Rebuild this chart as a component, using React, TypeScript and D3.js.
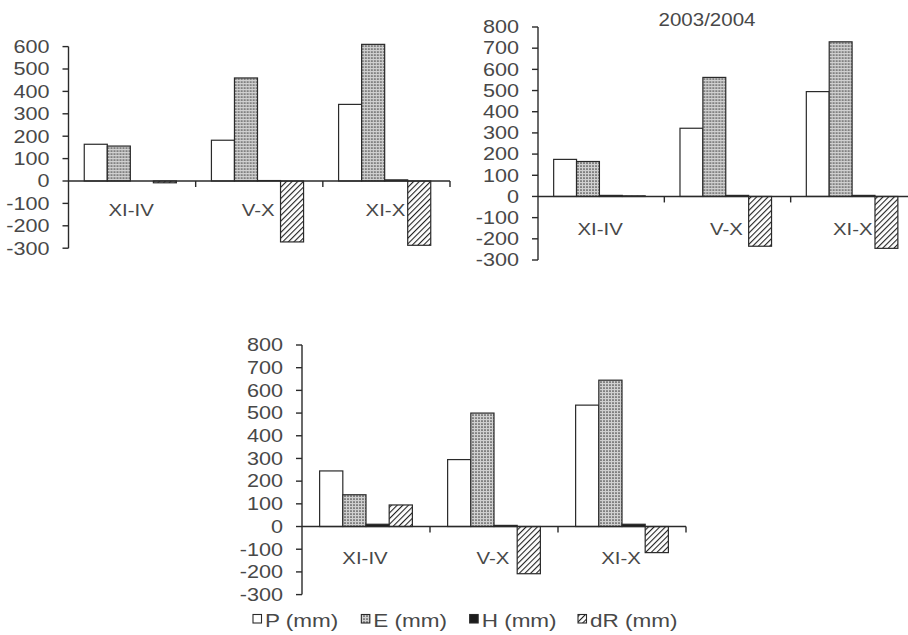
import * as d3 from "d3";

// categories and series
const categories = ["XI-IV", "V-X", "XI-X"];
const seriesKeys = ["P", "E", "H", "dR"];
const legendLabels = ["P (mm)", "E (mm)", "H (mm)", "dR (mm)"];

// panel 1 (top left)
const p1P = [164, 182, 342];
const p1E = [156, 460, 610];
const p1H = [0, 2, 5];
const p1dR = [-8, -272, -287];

// panel 2 (top right, 2003/2004)
const p2P = [175, 322, 495];
const p2E = [165, 562, 730];
const p2H = [5, 5, 5];
const p2dR = [3, -235, -245];

// panel 3 (bottom)
const p3P = [245, 295, 535];
const p3E = [140, 500, 645];
const p3H = [10, 5, 10];
const p3dR = [95, -208, -115];

const ticks1 = [-300, -200, -100, 0, 100, 200, 300, 400, 500, 600];
const ticks2 = [-300, -200, -100, 0, 100, 200, 300, 400, 500, 600, 700, 800];

const title2 = "2003/2004";

const panels = [
  { series: [p1P, p1E, p1H, p1dR], ticks: ticks1, x: [68.5, 450], y: [248.2, 46.6], align: 0.45, labelDy: 35, title: "" },
  { series: [p2P, p2E, p2H, p2dR], ticks: ticks2, x: [538, 917], y: [260, 27], align: 0.45, labelDy: 39, title: title2 },
  { series: [p3P, p3E, p3H, p3dR], ticks: ticks2, x: [302, 686], y: [594.6, 345], align: 0.5, labelDy: 37, title: "" },
];

const FONT = "'Liberation Sans', Arial, sans-serif";
const TEXT = "#484848";
const INK = "#2a2a2a";
const SX = 1.2;

const fills: Record<string, string> = {
  P: "#ffffff",
  E: "url(#dots)",
  H: "#1c1c1c",
  dR: "url(#hatch)",
};

function SText({ x, y, anchor = "start", size = 18, sx = SX, children }: any) {
  return (
    <g transform={`translate(${x},${y}) scale(${sx},1)`}>
      <text textAnchor={anchor} fontSize={size} fontFamily={FONT} fill={TEXT}>
        {children}
      </text>
    </g>
  );
}

function Panel({ cfg }: any) {
  const x0 = d3.scaleBand().domain(categories).range(cfg.x).padding(0);
  const x1 = d3
    .scaleBand()
    .domain(seriesKeys)
    .range([0, x0.bandwidth()])
    .paddingInner(0)
    .paddingOuter(0.76)
    .align(cfg.align);
  const y = d3
    .scaleLinear()
    .domain([cfg.ticks[0], cfg.ticks[cfg.ticks.length - 1]])
    .range(cfg.y);
  const axisX = cfg.x[0];
  const zero = y(0);

  return (
    <g>
      {/* bars */}
      {categories.map((c, i) => (
        <g key={c} transform={`translate(${x0(c)},0)`}>
          {seriesKeys.map((s, j) => {
            const v = cfg.series[j][i];
            if (!v) return null;
            const top = Math.min(y(v), zero);
            const h = Math.abs(y(v) - zero);
            return (
              <rect
                key={s}
                x={x1(s)}
                y={top}
                width={x1.bandwidth()}
                height={h}
                fill={fills[s]}
                stroke={INK}
                strokeWidth={1.2}
              />
            );
          })}
        </g>
      ))}

      {/* y axis */}
      <line x1={axisX} x2={axisX} y1={y.range()[0]} y2={y.range()[1]} stroke={INK} strokeWidth={1.4} />
      {cfg.ticks.map((t: number) => (
        <g key={t}>
          <line x1={axisX - 6} x2={axisX} y1={y(t)} y2={y(t)} stroke={INK} strokeWidth={1.4} />
          <SText x={axisX - 19} y={y(t) + 6.3} anchor="end" size={18}>
            {t}
          </SText>
        </g>
      ))}

      {/* x axis */}
      <line x1={cfg.x[0]} x2={cfg.x[1]} y1={zero} y2={zero} stroke={INK} strokeWidth={1.4} />
      {categories.map((c) => (
        <line
          key={c}
          x1={x0(c)! + x0.bandwidth()}
          x2={x0(c)! + x0.bandwidth()}
          y1={zero}
          y2={zero + 6}
          stroke={INK}
          strokeWidth={1.4}
        />
      ))}
      {categories.map((c) => (
        <SText key={c} x={x0(c)! + x0.bandwidth() / 2 - 1} y={zero + cfg.labelDy} anchor="middle" size={17}>
          {c}
        </SText>
      ))}

      {cfg.title && (
        <SText x={707} y={26} anchor="middle" size={18} sx={1.14}>
          {cfg.title}
        </SText>
      )}
    </g>
  );
}

export default function App() {
  const legendX = d3.scalePoint().domain(seriesKeys).range([253, 578]);
  return (
    <svg
      width={908}
      height={635}
      style={{ position: "absolute", left: 0, top: 0, background: "#fff" }}
    >
      <defs>
        <pattern id="dots" width={3} height={3} patternUnits="userSpaceOnUse">
          <rect width={3} height={3} fill="#d0d0d0" />
          <circle cx={1} cy={1} r={0.85} fill="#444" />
        </pattern>
        <pattern id="hatch" width={4} height={4} patternUnits="userSpaceOnUse" patternTransform="rotate(45)">
          <rect width={4} height={4} fill="#fff" />
          <line x1={0} y1={0} x2={0} y2={4} stroke="#222" strokeWidth={2.2} />
        </pattern>
      </defs>

      {panels.map((p, i) => (
        <Panel key={i} cfg={p} />
      ))}

      {/* legend */}
      {seriesKeys.map((s, i) => (
        <g key={s}>
          <rect x={legendX(s)} y={614.5} width={8.5} height={8.5} fill={fills[s]} stroke={INK} strokeWidth={1.1} />
          <SText x={legendX(s)! + 12} y={627} size={18} sx={1.25}>
            {legendLabels[i]}
          </SText>
        </g>
      ))}
    </svg>
  );
}
